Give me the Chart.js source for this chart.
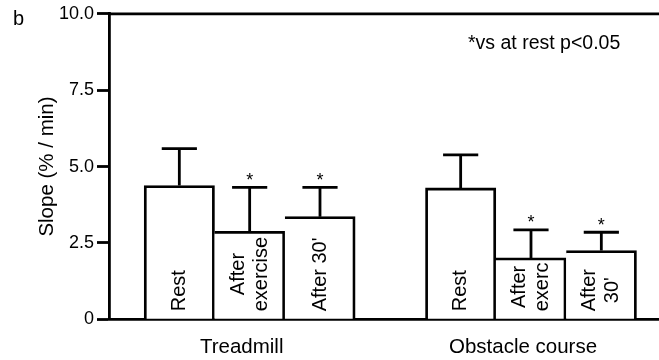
<!DOCTYPE html>
<html><head><meta charset="utf-8">
<script src="https://cdn.jsdelivr.net/npm/chart.js@4"></script>
<style>html,body{margin:0;padding:0;background:#fff}#wrap{width:659px;height:360px}</style>
</head><body><div id="wrap"><canvas id="c" width="659" height="360"></canvas></div>
<script>
// ---- data ----
const groups = ['Treadmill', 'Obstacle course'];
const treadmillLabels = [['Rest'], ['After', 'exercise'], ["After 30'"]];
const obstacleLabels = [['Rest'], ['After', 'exerc'], ['After', "30'"]];
const treadmillMean = [4.38, 2.88, 3.36];
const treadmillSEM = [1.21, 1.44, 0.96];
const obstacleMean = [4.30, 2.01, 2.25];
const obstacleSEM = [1.08, 0.92, 0.60];
const treadmillSig = [false, true, true];
const obstacleSig = [false, true, true];
const yTickValues = [0, 2.5, 5, 7.5, 10];
const yTickLabels = ['0', '2.5', '5.0', '7.5', '10.0'];
const yTitle = 'Slope (% / min)';
const noteText = '*vs at rest p<0.05';
const panelLetter = 'b';

// ---- build ----
const FONT = "'Liberation Sans', Arial, sans-serif";
const LW = 2.8;
const groupMeans = [treadmillMean, obstacleMean];
const groupSEM = [treadmillSEM, obstacleSEM];
const groupSig = [treadmillSig, obstacleSig];
const groupBarLabels = [treadmillLabels, obstacleLabels];
const nBars = treadmillMean.length;
const points = [], sems = [], sigs = [], barLabels = [];
groups.forEach((g, gi) => {
  groupMeans[gi].forEach((m, i) => {
    points.push({ x: gi * (nBars + 1) + i + 1, y: m });
    sems.push(groupSEM[gi][i]);
    sigs.push(groupSig[gi][i]);
    barLabels.push(groupBarLabels[gi][i]);
  });
});
const groupCenters = groups.map((g, gi) => gi * (nBars + 1) + (nBars + 1) / 2);

const overlay = {
  id: 'overlay',
  afterDatasetsDraw(chart) {
    const ctx = chart.ctx;
    const ys = chart.scales.y;
    const area = chart.chartArea;
    const meta = chart.getDatasetMeta(0);
    ctx.save();
    ctx.strokeStyle = '#000';
    ctx.fillStyle = '#000';
    ctx.lineWidth = LW;
    // top frame line
    ctx.beginPath();
    ctx.moveTo(area.left, area.top);
    ctx.lineTo(area.right, area.top);
    ctx.stroke();
    meta.data.forEach((el, i) => {
      const p = points[i];
      const topPx = ys.getPixelForValue(p.y + sems[i]);
      const half = el.width / 4;
      ctx.beginPath();
      ctx.moveTo(el.x, el.y);
      ctx.lineTo(el.x, topPx);
      ctx.moveTo(el.x - half, topPx);
      ctx.lineTo(el.x + half, topPx);
      ctx.stroke();
      if (sigs[i]) {
        ctx.font = '18px ' + FONT;
        ctx.textAlign = 'center';
        ctx.textBaseline = 'alphabetic';
        ctx.fillText('*', el.x, topPx - 1.5);
      }
      // label inside bar, rotated
      const lines = barLabels[i];
      ctx.font = '20px ' + FONT;
      const w = Math.max(...lines.map(l => ctx.measureText(l).width));
      const base = ys.getPixelForValue(0);
      const cy = base - 8 - w / 2;
      const lh = 23;
      ctx.save();
      ctx.translate(el.x, cy);
      ctx.rotate(-Math.PI / 2);
      ctx.textAlign = 'center';
      ctx.textBaseline = 'middle';
      lines.forEach((l, li) => {
        ctx.fillText(l, 0, (li - (lines.length - 1) / 2) * lh);
      });
      ctx.restore();
    });
    // panel letter and note
    ctx.textAlign = 'left';
    ctx.textBaseline = 'alphabetic';
    ctx.font = '20px ' + FONT;
    ctx.fillText(panelLetter, 13, 25);
    ctx.font = '19.5px ' + FONT;
    ctx.fillText(noteText, 468, 49);
    ctx.restore();
  }
};

new Chart(document.getElementById('c'), {
  type: 'bar',
  data: {
    datasets: [{
      data: points,
      backgroundColor: '#fff',
      borderColor: '#000',
      borderSkipped: false,
      borderWidth: (c) => ({ top: LW, right: LW, bottom: 0, left: (c.dataIndex % nBars === 0) ? LW : 0 }),
      barPercentage: 1,
      categoryPercentage: 1
    }]
  },
  options: {
    responsive: false,
    animation: false,
    devicePixelRatio: 1,
    layout: { padding: { top: 12.5, left: 0, right: 0, bottom: 0 } },
    plugins: { legend: { display: false }, tooltip: { enabled: false } },
    scales: {
      x: {
        type: 'linear',
        offset: false,
        bounds: 'data',
        min: 0,
        max: 7.82,
        grid: { display: false, drawTicks: false, offset: false },
        border: { display: true, color: '#000', width: LW },
        afterBuildTicks: (s) => { s.ticks = groupCenters.map(v => ({ value: v })); },
        afterFit: (s) => { s.height = 40.7; },
        ticks: {
          padding: 16,
          labelOffset: -8,
          maxRotation: 0,
          autoSkip: false,
          color: '#000',
          font: { family: FONT, size: 20.5 },
          callback: (v) => { const k = groupCenters.indexOf(v); return k >= 0 ? groups[k] : ''; }
        }
      },
      y: {
        min: 0,
        max: 10,
        grid: { display: true, drawOnChartArea: false, drawTicks: true, tickLength: 12, tickColor: '#000', tickWidth: LW, color: '#000' },
        border: { display: true, color: '#000', width: LW },
        afterBuildTicks: (s) => { s.ticks = yTickValues.map(v => ({ value: v })); },
        afterFit: (s) => { s.width = 109; },
        ticks: {
          padding: 3,
          color: '#000',
          font: { family: FONT, size: 18 },
          callback: (v) => { const k = yTickValues.indexOf(v); return k >= 0 ? yTickLabels[k] : ''; }
        },
        title: {
          display: true,
          text: yTitle,
          color: '#000',
          font: { family: FONT, size: 20.5 },
          padding: { top: 35, bottom: 0 }
        }
      }
    }
  },
  plugins: [overlay]
});
</script></body></html>
